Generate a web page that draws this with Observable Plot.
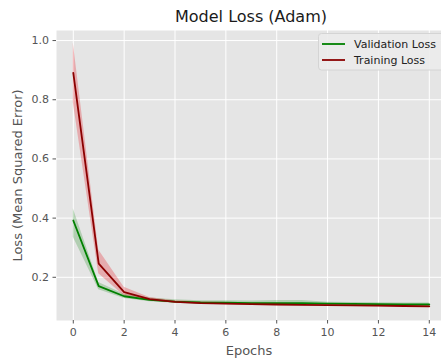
<!DOCTYPE html>
<html>
<head>
<meta charset="utf-8">
<script src="https://cdn.jsdelivr.net/npm/d3@7"></script>
<script src="https://cdn.jsdelivr.net/npm/@observablehq/plot@0.6"></script>
<style>
  html, body { margin: 0; padding: 0; background: #ffffff; }
  #chart svg { display: block; font-family: "DejaVu Sans", sans-serif; }
</style>
</head>
<body>
<div id="chart"></div>
<script>
// Loss per epoch (mean, with lower/upper spread across runs)
const epochs = [0, 1, 2, 3, 4, 5, 6, 7, 8, 9, 10, 11, 12, 13, 14];

const trainLoss = [0.891, 0.246, 0.150, 0.126, 0.117, 0.113, 0.111, 0.109, 0.108, 0.107, 0.106, 0.105, 0.104, 0.103, 0.102];
const trainLow  = [0.790, 0.212, 0.138, 0.120, 0.113, 0.109, 0.107, 0.105, 0.104, 0.103, 0.102, 0.101, 0.100, 0.099, 0.099];
const trainHigh = [0.992, 0.292, 0.166, 0.132, 0.121, 0.117, 0.115, 0.113, 0.112, 0.111, 0.110, 0.109, 0.108, 0.107, 0.106];

const valLoss = [0.392, 0.170, 0.136, 0.124, 0.118, 0.115, 0.114, 0.113, 0.113, 0.113, 0.111, 0.110, 0.109, 0.108, 0.108];
const valLow  = [0.335, 0.158, 0.128, 0.117, 0.112, 0.109, 0.108, 0.107, 0.106, 0.106, 0.106, 0.105, 0.105, 0.104, 0.104];
const valHigh = [0.432, 0.182, 0.143, 0.130, 0.124, 0.121, 0.121, 0.120, 0.122, 0.122, 0.116, 0.115, 0.114, 0.113, 0.113];

const seriesNames = ["Validation Loss", "Training Loss"];
const lineColors = ["#008000", "#8b0000"];
const bandColors = ["#008000", "#e8000b"];
const xTicks = [0, 2, 4, 6, 8, 10, 12, 14];
const yTicks = [0.2, 0.4, 0.6, 0.8, 1.0];

const val = epochs.map((e, i) => ({epoch: e, loss: valLoss[i], lo: valLow[i], hi: valHigh[i]}));
const train = epochs.map((e, i) => ({epoch: e, loss: trainLoss[i], lo: trainLow[i], hi: trainHigh[i]}));

const W = 441, H = 360;
const mL = 56, mR = 0, mT = 30, mB = 40;
const tickColor = "#555555";

const chart = Plot.plot({
  width: W,
  height: H,
  marginLeft: mL,
  marginRight: mR,
  marginTop: mT,
  marginBottom: mB,
  style: {background: "#ffffff", fontFamily: "DejaVu Sans, sans-serif", fontSize: "11px", color: tickColor},
  x: {domain: [-0.66, 14.48]},
  y: {domain: [0.054, 1.034]},
  marks: [
    Plot.frame({fill: "#e5e5e5", stroke: null}),
    Plot.gridX(xTicks, {stroke: "#ffffff", strokeOpacity: 1, strokeWidth: 1}),
    Plot.gridY(yTicks, {stroke: "#ffffff", strokeOpacity: 1, strokeWidth: 1}),
    Plot.areaY(val, {x: "epoch", y1: "lo", y2: "hi", fill: bandColors[0], fillOpacity: 0.22}),
    Plot.areaY(train, {x: "epoch", y1: "lo", y2: "hi", fill: bandColors[1], fillOpacity: 0.25}),
    Plot.lineY(val, {x: "epoch", y: "loss", stroke: lineColors[0], strokeWidth: 1.8}),
    Plot.lineY(train, {x: "epoch", y: "loss", stroke: lineColors[1], strokeWidth: 1.8}),
    Plot.axisX(xTicks, {
      tickSize: 3.5, tickPadding: 4, stroke: tickColor, fill: tickColor, fontSize: 11,
      label: "Epochs", labelAnchor: "center", labelOffset: 34, labelArrow: "none"
    }),
    Plot.axisY(yTicks, {
      tickSize: 3.5, tickPadding: 4, stroke: tickColor, fill: tickColor, fontSize: 11,
      tickFormat: d3.format(".1f"),
      label: "Loss (Mean Squared Error)", labelAnchor: "center", labelOffset: 44, labelArrow: "none"
    })
  ]
});

const svg = d3.select(chart);

// Axis label font size
svg.selectAll("[aria-label='x-axis label'] text, [aria-label='y-axis label'] text")
  .attr("font-size", 13).attr("fill", tickColor);

// Title
svg.append("text")
  .attr("x", (mL + 446) / 2)
  .attr("y", 22)
  .attr("text-anchor", "middle")
  .attr("font-size", 16)
  .attr("fill", "#1a1a1a")
  .text("Model Loss (Adam)");

// Legend box in the upper right of the panel
const lg = svg.append("g").attr("text-anchor", "start");
lg.append("rect")
  .attr("x", 318.5).attr("y", 33.5)
  .attr("width", 134).attr("height", 36.5)
  .attr("rx", 3)
  .attr("fill", "#ebebeb").attr("fill-opacity", 0.9)
  .attr("stroke", "#d4d4d4");
seriesNames.forEach((name, i) => {
  const yy = 44 + i * 16;
  lg.append("line")
    .attr("x1", 322).attr("x2", 345)
    .attr("y1", yy).attr("y2", yy)
    .attr("stroke", lineColors[i]).attr("stroke-width", 1.8);
  lg.append("text")
    .attr("x", 354).attr("y", yy)
    .attr("dy", "0.35em")
    .attr("text-anchor", "start")
    .attr("font-size", 11)
    .attr("fill", "#222222")
    .text(name);
});

document.getElementById("chart").appendChild(chart);
</script>
</body>
</html>
